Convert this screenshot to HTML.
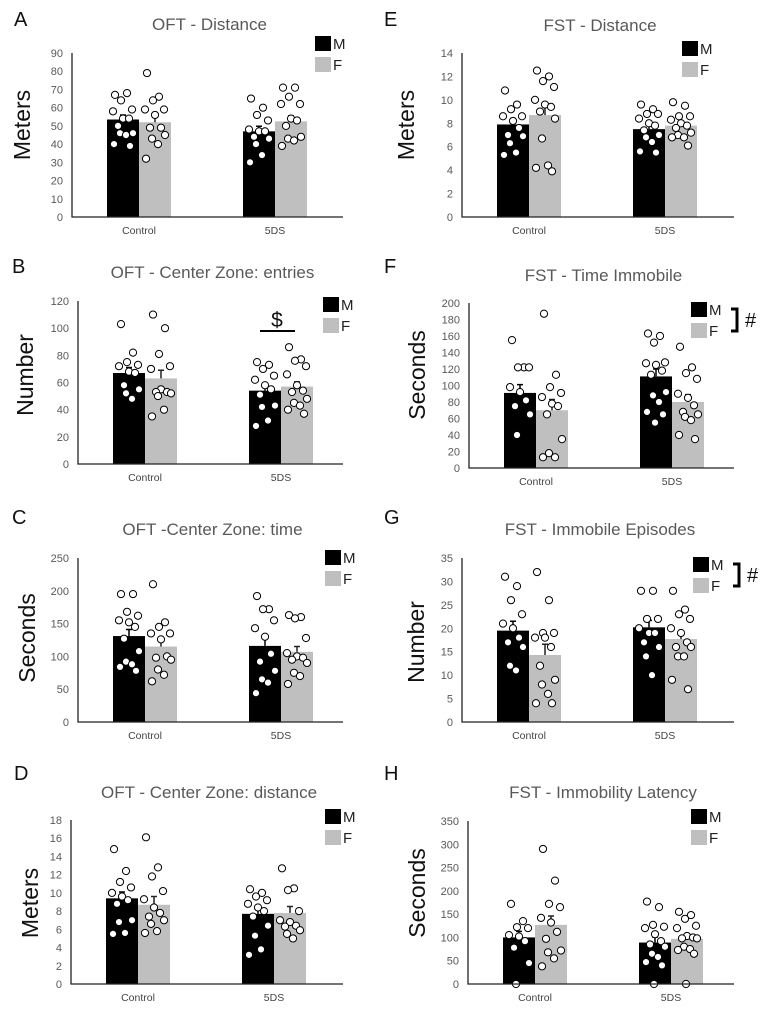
<!DOCTYPE html>
<html><head><meta charset="utf-8"><style>
html,body{margin:0;padding:0;background:#fff;}
svg{display:block;font-family:"Liberation Sans",sans-serif;}
</style></head><body>
<svg id="fig" width="767" height="1012" viewBox="0 0 767 1012" xmlns="http://www.w3.org/2000/svg"></svg>
<script>
const categories = ["Control","5DS"];
const sexes = ["M","F"];
// Panel A
const A_means=[53.5,52,47,52.5]; const A_err=[2.5,3.5,2.8,3];
const A_pts=[[67,68,64,59,58,54,54,50,46,46,45,40,39],[79,66,64,59,59,56,49,49,45,43,40,32],[65,60,56,53,48,47,47,44,43,40,34,30],[71,71,66,62,62,54,53,50,44,43,42,39]];
const A_ticks=[0,10,20,30,40,50,60,70,80,90];
// Panel B
const B_means=[67,63,54,57]; const B_err=[4,6,4,3.5];
const B_pts=[[103,82,75,73,72,68,67,58,55,52,48],[110,100,81,72,70,55,53,53,52,50,40,35],[75,73,70,65,62,58,55,51,43,42,32,28],[86,77,76,72,66,58,54,53,48,45,43,40,37]];
const B_ticks=[0,20,40,60,80,100,120];
// Panel C
const C_means=[131,115,116,107]; const C_err=[10,11,11,8];
const C_pts=[[195,195,168,162,155,152,145,127,108,92,88,84,78],[210,152,145,135,135,126,100,98,95,80,72,62],[192,172,172,155,143,130,104,92,78,65,60,44],[163,160,158,128,105,100,98,95,90,75,70,58]];
const C_ticks=[0,50,100,150,200,250];
// Panel D
const D_means=[9.4,8.7,7.7,7.8]; const D_err=[0.7,0.9,0.6,0.7];
const D_pts=[[14.8,12.4,11.2,10.6,10,9.6,9.2,8.8,7,6.8,5.6,5.5],[16.1,12.8,11.8,10.2,9.3,8.4,7.8,7.4,7,6.6,5.8,5.6],[10.4,10,9.6,9.2,8.8,8.4,8,7.4,6.4,5.3,3.8,3.2],[12.7,10.5,10.3,8,7,6.8,6.4,6.3,5.9,5.5,5]];
const D_ticks=[0,2,4,6,8,10,12,14,16,18];
// Panel E
const E_means=[7.9,8.7,7.5,7.8]; const E_err=[0.5,0.8,0.4,0.3];
const E_pts=[[10.8,9.6,9.2,8.6,8.6,8.2,7.6,7,6.9,6.3,5.5,5.3],[12.5,12,11.6,11.1,10,9.6,9.4,9,8.4,6.7,4.4,4.2,3.9],[9.6,9.2,8.8,8.8,8.4,8,7.8,7.4,7,6.8,6.4,5.6,5.5],[9.8,9.5,8.6,8.6,8.3,8,7.8,7.6,7.2,7,6.8,6.8,6.1]];
const E_ticks=[0,2,4,6,8,10,12,14];
// Panel F
const F_means=[91,70,111,80]; const F_err=[10,13,9,9];
const F_pts=[[155,122,122,122,98,92,82,75,65,40],[187,113,98,91,86,78,75,65,35,18,13,13],[163,160,152,128,127,125,118,113,92,88,80,68,65,55],[147,122,115,108,90,85,76,68,65,62,58,40,35]];
const F_ticks=[0,20,40,60,80,100,120,140,160,180,200];
// Panel G
const G_means=[19.5,14.3,20.2,17.7]; const G_err=[2,2.3,1.5,1.6];
const G_pts=[[31,29,26,23,21,20,18,17,16,12,11],[32,26,19,19,18,18,16,12,9,8,6,4,4],[28,28,22,22,20,19,19,17,16,14,10],[28,24,23,22,20,19,17,16,16,14,14,9,7]];
const G_ticks=[0,5,10,15,20,25,30,35];
// Panel H
const H_means=[100,127,89,97]; const H_err=[13,19,12,11];
const H_pts=[[172,135,122,120,105,102,92,78,45,0],[290,222,172,165,142,132,112,97,72,68,55,38],[177,165,127,123,120,107,92,85,80,65,58,47,40,0],[155,148,140,125,120,103,100,98,98,80,75,73,65,0]];
const H_ticks=[0,50,100,150,200,250,300,350];

const panels=[
 {id:"a",letter:"A",lx:14,ly:26,title:"OFT - Distance",ty:30,ylabel:"Meters",ylx:22,yly:125,ax:72,ar:343,y0:217,y1:53,means:A_means,err:A_err,pts:A_pts,ticks:A_ticks,legx:315,legy:36},
 {id:"b",letter:"B",lx:12,ly:273,title:"OFT - Center Zone: entries",ty:278,ylabel:"Number",ylx:25,yly:375,ax:78,ar:343,y0:464,y1:301,means:B_means,err:B_err,pts:B_pts,ticks:B_ticks,legx:323,legy:297,dollar:true},
 {id:"c",letter:"C",lx:12,ly:524,title:"OFT  -Center Zone: time",ty:535,ylabel:"Seconds",ylx:27,yly:638,ax:78,ar:343,y0:722,y1:558,means:C_means,err:C_err,pts:C_pts,ticks:C_ticks,legx:325,legy:550},
 {id:"d",letter:"D",lx:14,ly:780,title:"OFT - Center Zone: distance",ty:798,ylabel:"Meters",ylx:30,yly:903,ax:71,ar:343,y0:984,y1:820,means:D_means,err:D_err,pts:D_pts,ticks:D_ticks,legx:325,legy:809},
 {id:"e",letter:"E",lx:384,ly:26,title:"FST - Distance",ty:31,ylabel:"Meters",ylx:406,yly:125,ax:462,ar:734,y0:217,y1:53,means:E_means,err:E_err,pts:E_pts,ticks:E_ticks,legx:682,legy:41},
 {id:"f",letter:"F",lx:384,ly:273,title:"FST - Time Immobile",ty:281,ylabel:"Seconds",ylx:417,yly:375,ax:469,ar:734,y0:468,y1:303,means:F_means,err:F_err,pts:F_pts,ticks:F_ticks,legx:691,legy:302,hash:true},
 {id:"g",letter:"G",lx:384,ly:524,title:"FST - Immobile Episodes",ty:535,ylabel:"Number",ylx:416,yly:642,ax:462,ar:734,y0:722,y1:558,means:G_means,err:G_err,pts:G_pts,ticks:G_ticks,legx:693,legy:557,hash:true},
 {id:"h",letter:"H",lx:384,ly:780,title:"FST - Immobility Latency",ty:798,ylabel:"Seconds",ylx:417,yly:893,ax:468,ar:734,y0:984,y1:821,means:H_means,err:H_err,pts:H_pts,ticks:H_ticks,legx:691,legy:809}
];
const NS="http://www.w3.org/2000/svg";
const svg=document.getElementById("fig");
function mk(tag,attrs,parent,text){const e=document.createElementNS(NS,tag);for(const k in attrs)e.setAttribute(k,attrs[k]);if(text!==undefined)e.textContent=text;(parent||svg).appendChild(e);return e;}
const barOff=[35,67,171,203]; const barW=32;
const jit=[-8,4,-2,9,-10,0,6,-5,10,-3,3,-9,7,-1];
panels.forEach(p=>{
 const g=mk("g",{});
 
 
 const vmax=p.ticks[p.ticks.length-1];
 const Y=v=>p.y0-(v/vmax)*(p.y0-p.y1);
 const X=i=>p.ax+barOff[i];
 const lt=mk("text",{x:p.lx,y:p.ly,"font-size":20,fill:"#111"},g,p.letter);
 
 
 const tt=mk("text",{x:(p.ax+p.ar)/2+2,y:p.ty,"font-size":17,fill:"#595959","text-anchor":"middle"},g,p.title);
 
 
 const yl=mk("text",{x:p.ylx,y:p.yly,"font-size":23,fill:"#111","text-anchor":"middle","dominant-baseline":"central",transform:`rotate(-90 ${p.ylx} ${p.yly})`},g,p.ylabel);
 
 
 p.ticks.forEach(t=>{
  const tl=mk("text",{x:p.ax-9,y:Y(t)+4,"font-size":11,fill:"#595959","text-anchor":"end"},g,String(t));
  
  
 });
 // bars
 p.means.forEach((m,i)=>{
  const b=mk("rect",{x:X(i),y:Y(m),width:barW,height:p.y0-Y(m),fill:i%2?"#bfbfbf":"#000"},g);
  
  
 });
 // error bars
 p.means.forEach((m,i)=>{
  const cx=X(i)+barW/2, c=i%2?"#222":"#000";
  const e=mk("path",{d:`M${cx} ${Y(m)}V${Y(m+p.err[i])}M${cx-3} ${Y(m+p.err[i])}H${cx+3}`,stroke:c,"stroke-width":1.5,fill:"none"},g);
  
  
 });
 // points
 p.pts.forEach((arr,i)=>{
  const cx=X(i)+barW/2;
  arr.forEach((v,k)=>{
   const d=mk("circle",{cx:cx+jit[k%jit.length],cy:Y(v),r:3.6,fill:"#fff",stroke:"#000","stroke-width":1},g);
   
   
  });
 });
 // axes
 const ax=mk("path",{d:`M${p.ax} ${p.y1}V${p.y0}H${p.ar}`,stroke:"#222","stroke-width":1.3,fill:"none"},g);
 
 
 categories.forEach((c,ci)=>{
  const cl=mk("text",{x:p.ax+barOff[ci*2]+barW,y:p.y0+17,"font-size":10.5,fill:"#444","text-anchor":"middle"},g,c);
  
  
 });
 // legend
 sexes.forEach((s,si)=>{
  const ly=p.legy+si*21;
  const r=mk("rect",{x:p.legx,y:ly,width:16,height:15,fill:si?"#bfbfbf":"#000"},g);
  
  
  const t=mk("text",{x:p.legx+18,y:ly+13,"font-size":15,fill:"#222"},g,s);
  
  
 });
 if(p.hash){
  const bx=p.legx+40, by1=p.legy+7, by2=p.legy+29;
  const br=mk("path",{d:`M${bx} ${by1}H${bx+6}V${by2}H${bx}`,stroke:"#000","stroke-width":3,fill:"none"},g);
  
  
  const h=mk("text",{x:bx+14,y:(by1+by2)/2+7,"font-size":20,fill:"#111"},g,"#");
  
  
 }
 if(p.dollar){
  const l=mk("path",{d:`M${p.ax+182} 331H${p.ax+217}`,stroke:"#000","stroke-width":2},g);
  
  
  const d=mk("text",{x:p.ax+199,y:327,"font-size":21,fill:"#111","text-anchor":"middle"},g,"$");
  
  
 }
});
</script>
</body></html>
